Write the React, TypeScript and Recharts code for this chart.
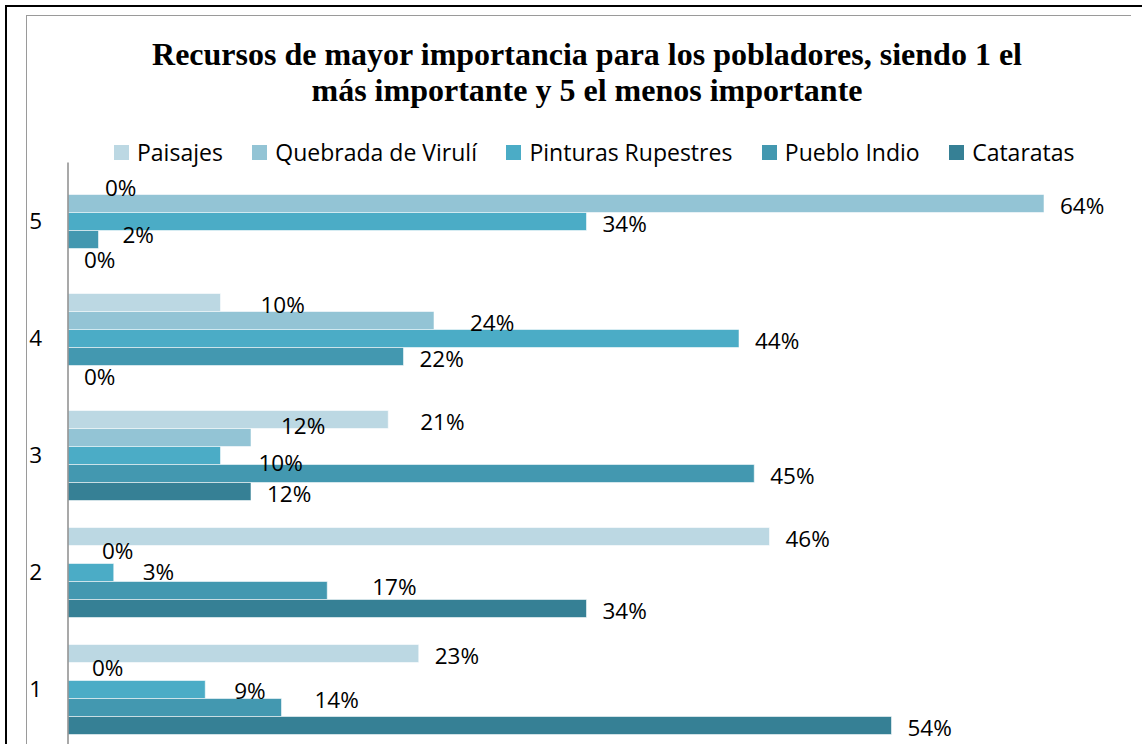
import React from 'react';
import { BarChart, Bar, XAxis, YAxis, LabelList, Legend } from 'recharts';

const categories = ['5', '4', '3', '2', '1'];
const paisajes = [0, 10, 21, 46, 23];
const quebrada = [64, 24, 12, 0, 0];
const pinturas = [34, 44, 10, 3, 9];
const pueblo = [2, 22, 45, 17, 14];
const cataratas = [0, 0, 12, 34, 54];

const seriesNames = ['Paisajes', 'Quebrada de Virulí', 'Pinturas Rupestres', 'Pueblo Indio', 'Cataratas'];
const seriesKeys = ['paisajes', 'quebrada', 'pinturas', 'pueblo', 'cataratas'];
const seriesColors = ['#BCD8E3', '#93C4D5', '#4BACC6', '#4398B0', '#368095'];

// manual label nudges (dx, dy) as in the original chart, [series][category]
const labelNudges: number[][][] = [
  [[21, 0], [24, 0], [16, 0], [0, 0], [0, 0]],
  [[0, 0], [20, 0], [14, -14], [18, -6], [8, -6]],
  [[0, 0], [0, 0], [22, 5], [13, -3], [13, -1]],
  [[8, -7], [0, 0], [0, 0], [29, -6], [17, -10]],
  [[0, 0], [0, 0], [0, 0], [0, 0], [0, 0]],
];

const seriesValues = [paisajes, quebrada, pinturas, pueblo, cataratas];

const data = categories.map((cat, i) => {
  const row: any = { cat };
  seriesKeys.forEach((k, s) => {
    row[k] = seriesValues[s][i];
  });
  return row;
});

const FONT = '"Open Sans", sans-serif';
const LABEL_SIZE = 22.5;

const labelText = (key: string, x: number, y: number, value: number) => (
  <text key={key} x={x} y={y} fontSize={LABEL_SIZE} fontFamily={FONT} fill="#000" textAnchor="start">
    {`${value}%`}
  </text>
);

const makeLabel = (s: number) => (props: any) => {
  const { x, y, width, height, value } = props;
  const cat = props.payload && props.payload.cat != null ? String(props.payload.cat) : String(value);
  const index = categories.indexOf(cat);
  if (index < 0) return null;
  const bx = Number(x);
  const by = Number(y);
  const bw = Number(width);
  const bh = Number(height);
  const out: any[] = [];
  const own = seriesValues[s][index];
  if (own !== 0) {
    const n = labelNudges[s][index];
    out.push(labelText(`own-${s}-${index}`, bx + bw + 16 + n[0], by + bh / 2 + 10 + n[1], own));
  }
  // zero-length bars get no label entry of their own: the first non-zero
  // bar of the category draws them, one bar-slot away per series
  const owner = seriesValues.findIndex((vals) => vals[index] !== 0);
  if (owner === s) {
    seriesValues.forEach((vals, z) => {
      if (vals[index] === 0) {
        const n = labelNudges[z][index];
        out.push(labelText(`zero-${z}-${index}`, bx + 16 + n[0], by + (z - s) * bh + bh / 2 + 10 + n[1], 0));
      }
    });
  }
  return <g>{out}</g>;
};

const renderLegend = () => (
  <div style={{ display: 'flex', alignItems: 'center', fontFamily: FONT, fontSize: 23, lineHeight: '30px', color: '#000' }}>
    {seriesNames.map((name, i) => (
      <div key={name} style={{ display: 'flex', alignItems: 'center', marginRight: 29.5 }}>
        <span style={{ display: 'inline-block', width: 15, height: 15, background: seriesColors[i], marginRight: 8 }} />
        <span>{name}</span>
      </div>
    ))}
  </div>
);

export default function App() {
  return (
    <div style={{ position: 'absolute', left: 0, top: 0, width: 1142, height: 744, overflow: 'hidden', background: '#fff' }}>
      <div style={{ position: 'absolute', left: 5, top: 5, width: 1200, height: 800, borderTop: '2px solid #000', borderLeft: '2px solid #000' }} />
      <div style={{ position: 'absolute', left: 26, top: 15, width: 1104, height: 800, borderTop: '1.5px solid #9a9a9a', borderLeft: '1.5px solid #9a9a9a' }} />
      <div
        style={{
          position: 'absolute', left: 37, top: 36, width: 1100, textAlign: 'center',
          fontFamily: '"Liberation Serif", "Times New Roman", serif', fontWeight: 'bold', fontSize: 32, lineHeight: '36px', color: '#000',
        }}
      >
        Recursos de mayor importancia para los pobladores, siendo 1 el
        <br />
        más importante y 5 el menos importante
      </div>
      <div style={{ position: 'absolute', left: 0, top: 0 }}>
        <BarChart
          width={1142}
          height={750}
          data={data}
          layout="vertical"
          margin={{ top: 162.5, right: 6.5, bottom: 2.5, left: 0 }}
          barGap={0}
          barSize={18}
        >
          <XAxis type="number" domain={[0, 70]} hide />
          <YAxis
            type="category"
            dataKey="cat"
            width={68}
            axisLine={{ stroke: '#8c8c8c', strokeWidth: 1.5 }}
            tickLine={false}
            tickSize={0}
            tickMargin={26}
            tick={{ fontSize: 22.5, fontFamily: FONT, fill: '#000' }}
          />
          <Legend
            verticalAlign="middle"
            align="center"
            content={renderLegend}
            wrapperStyle={{ position: 'absolute', top: 137, left: 114, width: 1000 }}
          />
          {seriesKeys.map((k, s) => (
            <Bar
              key={k}
              dataKey={k}
              name={seriesNames[s]}
              fill={seriesColors[s]}
              stroke="rgba(255,255,255,0.55)"
              strokeWidth={1}
              isAnimationActive={false}
            >
              <LabelList dataKey={(row: any) => row.cat} content={makeLabel(s)} />
            </Bar>
          ))}
        </BarChart>
      </div>
    </div>
  );
}
